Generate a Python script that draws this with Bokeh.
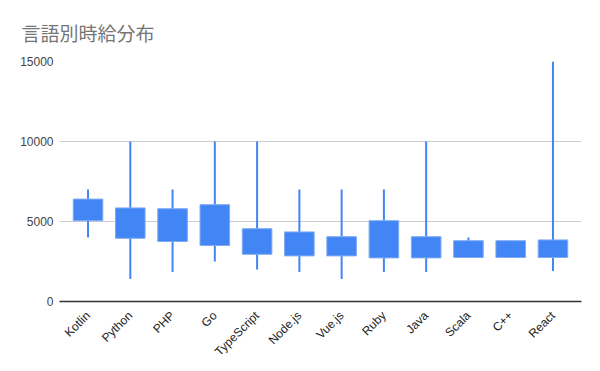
from bokeh.plotting import figure
from bokeh.models import FactorRange, Range1d, FixedTicker, ColumnDataSource
from bokeh.embed import file_html
from bokeh.resources import INLINE
import math

languages = ["Kotlin", "Python", "PHP", "Go", "TypeScript", "Node.js", "Vue.js",
             "Ruby", "Java", "Scala", "C++", "React"]
low = [4000, 1400, 1850, 2500, 2000, 1850, 1400, 1850, 1850, 2750, 2750, 1900]
box_bottom = [5050, 3950, 3750, 3500, 2950, 2850, 2850, 2725, 2725, 2750, 2750, 2750]
box_top = [6400, 5850, 5800, 6050, 4550, 4350, 4050, 5050, 4050, 3800, 3800, 3850]
high = [7000, 10000, 7000, 10000, 10000, 7000, 7000, 7000, 10000, 4000, 3800, 15000]
y_ticks = [0, 5000, 10000, 15000]

src = ColumnDataSource(dict(lang=languages, low=low, bb=box_bottom, bt=box_top, high=high))

p = figure(x_range=FactorRange(factors=languages, range_padding=0.175, range_padding_units="absolute"),
           y_range=Range1d(0, 15000),
           frame_width=522, frame_height=240,
           min_border_left=59, min_border_right=19, min_border_top=61, min_border_bottom=70,
           output_backend="svg", toolbar_location=None,
           title="言語別時給分布")

p.title.text_font = "Noto Sans CJK JP"
p.title.text_font_size = "19px"
p.title.text_font_style = "normal"
p.title.text_color = "#757575"
p.title.offset = -38
p.title.standoff = 31

p.segment(x0="lang", y0="low", x1="lang", y1="high", source=src,
          line_color="#4285f4", line_width=2)
p.vbar(x="lang", bottom="bb", top="bt", width=0.7, source=src,
       fill_color="#4285f4", line_color="#80aaf6", line_width=1)

p.outline_line_color = None
p.background_fill_color = "white"
p.border_fill_color = "white"
p.xgrid.grid_line_color = None
p.ygrid.grid_line_color = "#cccccc"
p.ygrid.grid_line_width = 1

p.yaxis.ticker = FixedTicker(ticks=y_ticks)
p.yaxis.axis_line_color = None
p.yaxis.major_tick_line_color = None
p.yaxis.minor_tick_line_color = None
p.yaxis.major_tick_out = 0
p.yaxis.major_tick_in = 0
p.yaxis.major_label_text_font = "Liberation Sans"
p.yaxis.major_label_text_font_size = "12px"
p.yaxis.major_label_text_color = "#444444"
p.yaxis.major_label_standoff = 6

p.xaxis.axis_line_color = "#333333"
p.xaxis.axis_line_width = 1.5
p.xaxis.major_tick_line_color = None
p.xaxis.minor_tick_line_color = None
p.xaxis.major_tick_out = 0
p.xaxis.major_tick_in = 0
p.xaxis.major_label_orientation = math.pi / 4
p.xaxis.major_label_text_font = "Liberation Sans"
p.xaxis.major_label_text_font_size = "12px"
p.xaxis.major_label_text_color = "#222222"
p.xaxis.major_label_standoff = 12

open("out.html", "w").write(file_html(p, INLINE))
